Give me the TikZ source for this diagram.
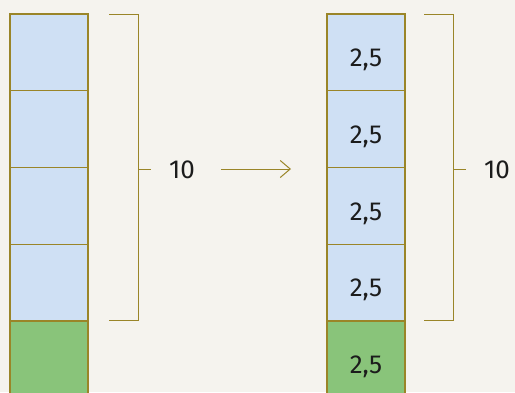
\documentclass[tikz,border=0pt]{standalone}
\usepackage{fontspec}
\setmainfont{Fira Sans}
\usetikzlibrary{arrows.meta}
\definecolor{paper}{HTML}{F5F3EE}
\definecolor{cellblue}{HTML}{CFE0F4}
\definecolor{cellgreen}{HTML}{89C47A}
\definecolor{olive}{HTML}{9A8528}
\definecolor{ink}{HTML}{1C1C1C}
\tikzset{
  cell/.style={draw=olive, line width=1.3pt, minimum width=78pt, minimum height=76.75pt,
    inner sep=0pt, outer sep=0pt, anchor=north west, text=ink,
    text height=28.6pt, text depth=0pt,
    font=\fontsize{26}{26}\selectfont},
  blue cell/.style={cell, fill=cellblue},
  green cell/.style={cell, fill=cellgreen},
  brace line/.style={draw=olive, line width=1pt},
  lbl/.style={text=ink, font=\fontsize{26}{26}\selectfont, inner sep=0pt},
}
\begin{document}
\begin{tikzpicture}[x=1pt, y=-1pt]
  \useasboundingbox[fill=paper] (0,0) rectangle (515,392);
  % left column: four parts and one extra part
  \node[blue cell]  (l1) at (10,14) {};
  \node[blue cell]  (l2) at (10,90.75) {};
  \node[blue cell]  (l3) at (10,167.5) {};
  \node[blue cell]  (l4) at (10,244.25) {};
  \node[green cell] (l5) at (10,321) {};
  % right column: the same parts, labelled
  \node[blue cell]  (r1) at (327,14) {2,5};
  \node[blue cell]  (r2) at (327,90.75) {2,5};
  \node[blue cell]  (r3) at (327,167.5) {2,5};
  \node[blue cell]  (r4) at (327,244.25) {2,5};
  \node[green cell] (r5) at (327,321) {2,5};
  % brackets spanning the four blue parts
  \coordinate (lbt) at (109,14);   \coordinate (lbb) at (109,320.5);
  \coordinate (rbt) at (424,14);   \coordinate (rbb) at (424,320.5);
  \draw[brace line] (lbt) -- ++(29.5,0) coordinate (lbtc) -- (lbtc |- lbb) coordinate (lbbc) -- (lbb);
  \draw[brace line] (rbt) -- ++(29.5,0) coordinate (rbtc) -- (rbtc |- rbb) coordinate (rbbc) -- (rbb);
  \coordinate (ltick) at (138.5,169);
  \coordinate (rtick) at (453.5,169);
  \draw[brace line] (ltick) -- ++(12,0);
  \draw[brace line] (rtick) -- ++(12,0);
  \node[lbl] (ltot) at (182,170) {10};
  \node[lbl] (rtot) at (497,170) {10};
  % arrow between the two columns
  \coordinate (as) at (221,169);
  \coordinate (ae) at (291,169);
  \draw[brace line, -{Straight Barb[length=10pt, width=17pt, line width=1pt]}] (as) -- (ae);
\end{tikzpicture}
\end{document}
